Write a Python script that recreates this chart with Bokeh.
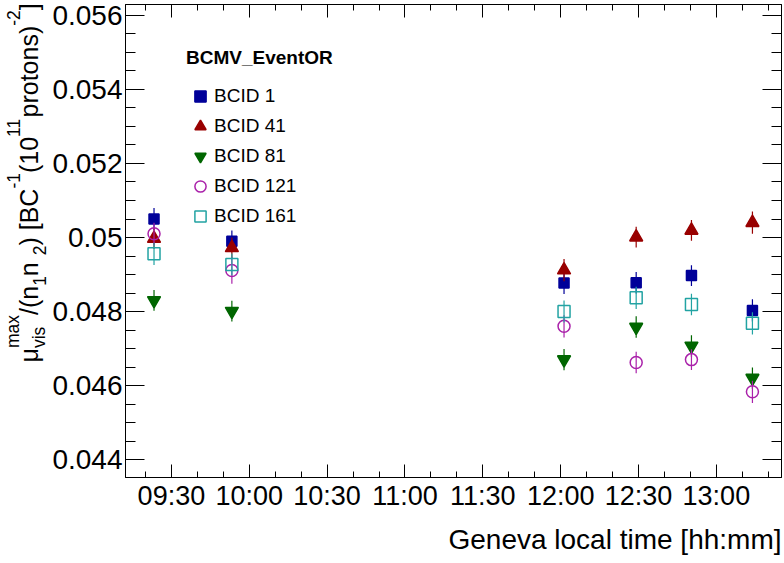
import math
from bokeh.plotting import figure
from bokeh.layouts import row
from bokeh.models import (Range1d, FixedTicker, LinearAxis, Label, Legend,
                          LegendItem, ColumnDataSource, Title)
from bokeh.embed import file_html
from bokeh.resources import INLINE

# ---------------- data ----------------
# measurement times, minutes after midnight (Geneva local time)
times = [563.3, 593.3, 721.3, 749.1, 770.4, 793.9]

bcid1 = [0.05050, 0.04990, 0.04877, 0.04878, 0.04897, 0.04803]
bcid41 = [0.04997, 0.04972, 0.04912, 0.05001, 0.05019, 0.05040]
bcid81 = [0.04830, 0.04801, 0.04670, 0.04758, 0.04707, 0.04620]
bcid121 = [0.05010, 0.04911, 0.04760, 0.04662, 0.04670, 0.04583]
bcid161 = [0.04956, 0.04927, 0.04800, 0.04837, 0.04819, 0.04768]

err1 = [0.00030, 0.00029, 0.00030, 0.00029, 0.00028, 0.00030]
err41 = [0.00028, 0.00028, 0.00030, 0.00028, 0.00028, 0.00030]
err81 = [0.00028, 0.00028, 0.00029, 0.00029, 0.00029, 0.00029]
err121 = [0.00030, 0.00036, 0.00030, 0.00029, 0.00028, 0.00030]
err161 = [0.00030, 0.00030, 0.00030, 0.00030, 0.00029, 0.00030]

series_labels = ["BCID 1", "BCID 41", "BCID 81", "BCID 121", "BCID 161"]

x_tick_values = [570, 600, 630, 660, 690, 720, 750, 780]
x_tick_labels = ["09:30", "10:00", "10:30", "11:00", "11:30", "12:00", "12:30", "13:00"]
x_minor_values = [560, 580, 590, 610, 620, 640, 650, 670, 680, 700, 710, 730,
                  740, 760, 770, 790, 800]

y_tick_values = [0.044, 0.046, 0.048, 0.050, 0.052, 0.054, 0.056]
y_tick_labels = ["0.044", "0.046", "0.048", "0.05", "0.052", "0.054", "0.056"]
y_minor_values = [0.0435 + 0.0005 * i for i in range(26)]

legend_title = "BCMV_EventOR"
x_title = "Geneva local time [hh:mm]"

# ---------------- styling ----------------
FONT = "Liberation Sans"
styles = [
    dict(marker="square", color="#000099", fill=True, size=10),
    dict(marker="triangle", color="#990000", fill=True, size=13),
    dict(marker="inverted_triangle", color="#006600", fill=True, size=13),
    dict(marker="circle", color="#aa22aa", fill=False, size=12),
    dict(marker="square", color="#22a3a3", fill=False, size=12),
]
values = [bcid1, bcid41, bcid81, bcid121, bcid161]
errors = [err1, err41, err81, err121, err161]

WIDTH, H = 784, 563
TOP, BOTTOM = 4, 86
TITLE_W = 49
p = figure(width=WIDTH - TITLE_W, height=H, output_backend="svg", toolbar_location=None,
           x_range=Range1d(552.31, 805.1), y_range=Range1d(0.043514, 0.056297),
           min_border_left=124 - TITLE_W, min_border_right=3, min_border_top=TOP,
           min_border_bottom=BOTTOM)
p.xgrid.visible = False
p.ygrid.visible = False
p.outline_line_color = "black"
p.outline_line_width = 1
p.background_fill_color = "white"
p.border_fill_color = "white"

xticker = FixedTicker(ticks=x_tick_values, minor_ticks=x_minor_values)
yticker = FixedTicker(ticks=y_tick_values, minor_ticks=y_minor_values)

def style_axis(ax, ticker, major_in, minor_in, labels, size):
    ax.ticker = ticker
    ax.major_tick_in = major_in
    ax.major_tick_out = 0
    ax.minor_tick_in = minor_in
    ax.minor_tick_out = 0
    ax.axis_line_color = "black"
    ax.major_tick_line_color = "black"
    ax.minor_tick_line_color = "black"
    ax.axis_label = None
    if labels is None:
        ax.major_label_text_font_size = "0px"
        ax.major_label_standoff = 0
        ax.major_label_overrides = {v: "" for v in ticker.ticks}
    else:
        ax.major_label_overrides = labels
        ax.major_label_text_font = FONT
        ax.major_label_text_font_size = size
        ax.major_label_text_color = "black"

style_axis(p.xaxis[0], xticker, 13, 6,
           dict(zip(x_tick_values, x_tick_labels)), "27px")
p.xaxis[0].major_label_standoff = 3
style_axis(p.yaxis[0], yticker, 19, 10,
           dict(zip(y_tick_values, y_tick_labels)), "28px")
p.yaxis[0].major_label_standoff = 3

top_axis = LinearAxis()
style_axis(top_axis, xticker, 13, 6, None, None)
p.add_layout(top_axis, "above")
right_axis = LinearAxis()
style_axis(right_axis, yticker, 19, 10, None, None)
p.add_layout(right_axis, "right")

# ---------------- data marks ----------------
items = []
for lab, vals, errs, st in zip(series_labels, values, errors, styles):
    src = ColumnDataSource(dict(
        t=times, v=vals,
        lo=[v - e for v, e in zip(vals, errs)],
        hi=[v + e for v, e in zip(vals, errs)]))
    p.segment(x0="t", y0="lo", x1="t", y1="hi", source=src,
              line_color=st["color"], line_width=1.2)
    r = p.scatter(x="t", y="v", source=src, marker=st["marker"], size=st["size"],
                  line_color=st["color"], line_width=1.5,
                  fill_color=st["color"] if st["fill"] else None)
    items.append(LegendItem(label=lab, renderers=[r]))

legend = Legend(items=items, title=legend_title, location=(61, 246),
                title_text_font=FONT, title_text_font_style="bold",
                title_text_font_size="19px", title_standoff=12,
                title_text_color="black",
                label_text_font=FONT, label_text_font_size="19px",
                label_text_color="black",
                glyph_width=28, glyph_height=30, label_standoff=0,
                spacing=0, padding=0, margin=0,
                border_line_alpha=0, background_fill_alpha=0)
p.add_layout(legend)

# x-axis title (side-panel annotation, right aligned to the frame)
p.add_layout(Title(text=x_title, align="right", text_font=FONT,
                   text_font_size="28px", text_font_style="normal",
                   text_color="black", standoff=16), "below")

# ---------------- y-axis title in a narrow companion figure ----------------
# its frame is aligned with the main frame (rows 4..477), so the data range is
# chosen such that one data unit == one pixel, measured from the canvas bottom
tf = figure(width=TITLE_W, height=H, output_backend="svg", toolbar_location=None,
            x_range=Range1d(0, TITLE_W), y_range=Range1d(BOTTOM, H - TOP),
            x_axis_location=None, y_axis_location=None,
            min_border_left=0, min_border_right=0,
            min_border_top=TOP, min_border_bottom=BOTTOM)
tf.xgrid.visible = False
tf.ygrid.visible = False
tf.outline_line_color = None
tf.background_fill_color = "white"
tf.border_fill_color = "white"

W = {'μ': 576, 'm': 833, 'a': 556, 'x': 500, 'v': 500, 'i': 222, 's': 500,
     '/': 278, '(': 333, ')': 333, 'n': 556, '1': 556, '2': 556, ' ': 278,
     '[': 278, ']': 278, 'B': 667, 'C': 722, '-': 333, '0': 556, 'p': 556,
     'r': 333, 'o': 556, 't': 278}

def tw(s, size):
    return sum(W[c] for c in s) / 1000.0 * size

segments = [("μ", "max", "vis"), ("/(n", "", "1"), (" n", "", "2"),
            (") [BC", "-1", ""), ("(10", "11", ""), ("protons)", "-2", ""),
            ("]", "", "")]
MAIN, SCRIPT = 25.0, 17.5
MID = 0.347  # distance of the text "middle" above the baseline, in em
base_x = 37 - MID * MAIN
sup_x = 19 - MID * SCRIPT
sub_x = 45 - MID * SCRIPT
start_y = H - 362
along = 0.0
for main, sup, sub in segments:
    tf.add_layout(Label(x=base_x, y=start_y + along, text=main, angle=math.pi / 2,
                        text_align="left", text_baseline="middle",
                        text_font=FONT, text_font_size=f"{MAIN}px",
                        text_color="black"))
    along += tw(main, MAIN)
    for txt, xx in ((sup, sup_x), (sub, sub_x)):
        if txt:
            tf.add_layout(Label(x=xx, y=start_y + along, text=txt, angle=math.pi / 2,
                                text_align="left", text_baseline="middle",
                                text_font=FONT, text_font_size=f"{SCRIPT}px",
                                text_color="black"))
    along += max(tw(sup, SCRIPT), tw(sub, SCRIPT))

layout = row(tf, p, spacing=0)
open("out.html", "w").write(file_html(layout, INLINE))
